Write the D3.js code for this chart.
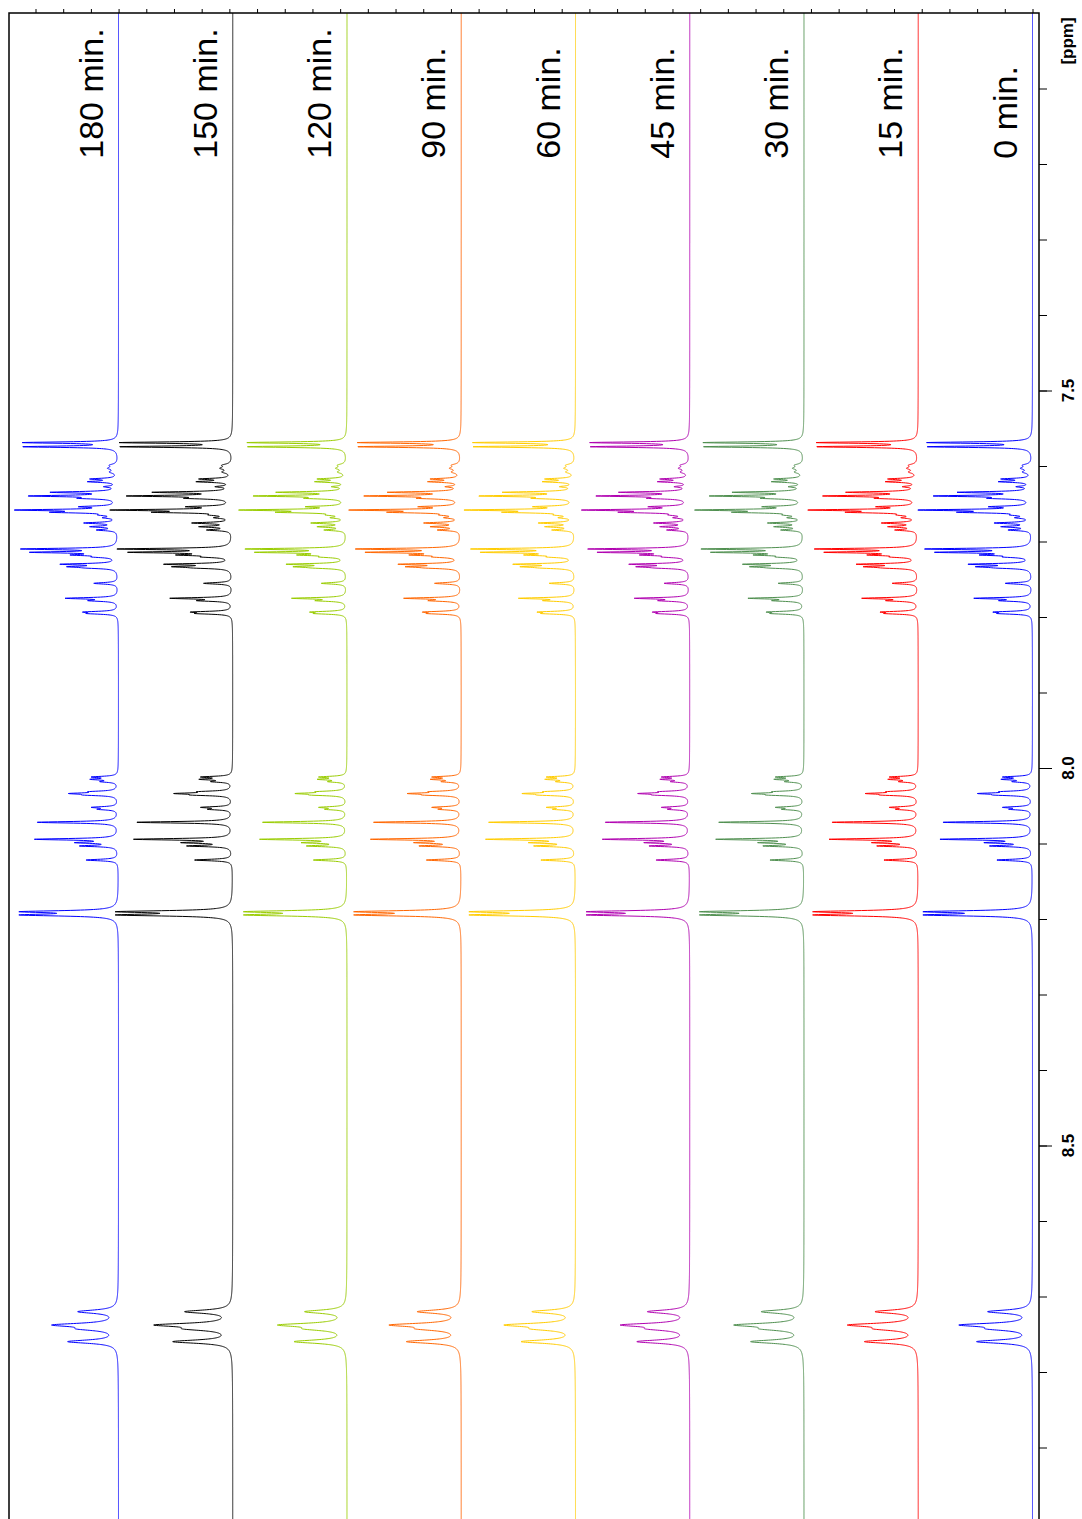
<!doctype html>
<html>
<head>
<meta charset="utf-8">
<style>
  body { margin: 0; background: #fff; }
  svg { display: block; }
  .lbl { font-family: "Liberation Sans", Arial, sans-serif; font-size: 34px; fill: #000; }
  .axlbl { font-family: "Liberation Sans", Arial, sans-serif; font-size: 17px; font-weight: bold; fill: #000; }
</style>
<script src="https://d3js.org/d3.v7.min.js"></script>
</head>
<body>
<svg width="1082" height="1519"></svg>
<script>
// time points, bottom trace (0 min) is on the right
var times = ["0 min.", "15 min.", "30 min.", "45 min.", "60 min.", "90 min.", "120 min.", "150 min.", "180 min."];
var colors = ["#0000ff", "#ff0000", "#4f8f4f", "#b000b0", "#ffcc00", "#ff6600", "#99cc00", "#000000", "#0000ff"];
// relative intensity of each spectrum
var gains = [1.10, 1.06, 1.05, 1.04, 1.07, 1.08, 1.04, 1.18, 1.00];

// peak list (ppm, intensity, half width in ppm)
var peakPpm = [7.5690, 7.5745, 7.5990, 7.6030, 7.6080,
  7.6172, 7.6208, 7.6274, 7.6348, 7.6397, 7.6428, 7.6539, 7.6583, 7.6613, 7.6649, 7.6685, 7.6755, 7.6804, 7.6848,
  7.7099, 7.7143, 7.7179, 7.7205, 7.7301, 7.7334, 7.7351, 7.7554, 7.7752, 7.7784, 7.7934, 7.7954,
  8.0119, 8.0150, 8.0181, 8.0314, 8.0338, 8.0358, 8.0521, 8.0547, 8.0719, 8.0944, 8.0989, 8.1033, 8.1219,
  8.1903, 8.1947,
  8.7201, 8.7377, 8.7430, 8.7598];
var peakHeight = [81, 81, 6, 7, 6,
  22, 24, 10, 55, 73, 26, 28, 83, 48, 10, 10, 28, 22, 17,
  81, 70, 32, 15, 46, 35, 17, 21, 44, 22, 26, 22,
  21, 21, 13, 19, 35, 22, 21, 15, 71, 71, 32, 31, 28,
  78, 78,
  34, 52, 25, 43];
var peakWidth = [0.0011, 0.0011, 0.002, 0.002, 0.002,
  0.0011, 0.0011, 0.0011, 0.0011, 0.0011, 0.0011, 0.0011, 0.0011, 0.0011, 0.0011, 0.0011, 0.0011, 0.0011, 0.0011,
  0.0011, 0.0011, 0.0011, 0.0011, 0.0011, 0.0011, 0.0011, 0.0012, 0.0011, 0.0011, 0.0011, 0.0011,
  0.0011, 0.0011, 0.0011, 0.0011, 0.0011, 0.0011, 0.0011, 0.0011, 0.0012, 0.0012, 0.0011, 0.0011, 0.0012,
  0.0016, 0.0016,
  0.0027, 0.0027, 0.0027, 0.0027];

var ppmRange = [7.0, 9.0];
var ppmTicks = d3.range(71, 90).map(function(d) { return d / 10; });
var ppmMajor = [7.5, 8.0, 8.5];
var stackStep = 100;      // intensity offset between spectra
var intTickStep = 24.24;  // intensity axis tick step

var svg = d3.select("svg");
var boxL = 9, boxR = 1039, boxT = 13, boxB = 1523;

// ppm runs down the page, intensity runs to the left
var yScale = d3.scaleLinear().domain(ppmRange).range([boxT, boxB]);
var xScale = d3.scaleLinear().domain([0, 900]).range([1032.5, 1032.5 - 900 * 1.1425]);

var grid = d3.range(ppmRange[0], ppmRange[1], 0.0002);

function spectrum() {
  return grid.map(function(p) {
    var s = 0;
    for (var k = 0; k < peakPpm.length; k++) {
      var r = (p - peakPpm[k]) / peakWidth[k];
      s += peakHeight[k] / (1 + r * r);
    }
    return [p, s];
  });
}

var base = spectrum();

var line = d3.line()
  .x(function(d) { return xScale(d[1]); })
  .y(function(d) { return yScale(d[0]); });

times.forEach(function(t, i) {
  var off = i * stackStep;
  var pts = base.map(function(d) { return [d[0], off + d[1] * gains[i]]; });
  svg.append("path")
    .attr("d", line(pts))
    .attr("fill", "none")
    .attr("stroke", colors[i])
    .attr("stroke-width", 1);

  svg.append("text")
    .attr("class", "lbl")
    .attr("transform", "translate(" + (xScale(off) - 16) + "," + yScale(7.193) + ") rotate(-90)")
    .text(t);
});

// frame
svg.append("rect")
  .attr("x", boxL).attr("y", boxT)
  .attr("width", boxR - boxL).attr("height", boxB - boxT)
  .attr("fill", "none").attr("stroke", "#000").attr("stroke-width", 1.5);

// intensity ticks along the top
var intTicks = d3.range(0, 900, intTickStep).filter(function(v) { return xScale(v) > boxL + 2; });
svg.append("g")
  .attr("transform", "translate(0," + boxT + ")")
  .call(d3.axisTop(xScale).tickValues(intTicks).tickSize(4).tickFormat(""))
  .call(function(g) { g.select(".domain").remove(); });

// ppm axis on the right
svg.append("g")
  .attr("transform", "translate(" + boxR + ",0)")
  .call(d3.axisRight(yScale).tickValues(ppmTicks).tickSize(8).tickFormat(""))
  .call(function(g) { g.select(".domain").remove(); });
svg.append("g")
  .attr("transform", "translate(" + boxR + ",0)")
  .call(d3.axisRight(yScale).tickValues(ppmMajor).tickSize(13).tickFormat(""))
  .call(function(g) { g.select(".domain").remove(); });

svg.selectAll(".tk")
  .data(ppmMajor)
  .enter().append("text")
  .attr("class", "axlbl")
  .attr("text-anchor", "middle")
  .attr("transform", function(d) { return "translate(1074," + yScale(d) + ") rotate(-90)"; })
  .text(function(d) { return d.toFixed(1); });

svg.append("text")
  .attr("class", "axlbl")
  .attr("text-anchor", "middle")
  .attr("transform", "translate(1073," + 41 + ") rotate(-90)")
  .text("[ppm]");
</script>
</body>
</html>
